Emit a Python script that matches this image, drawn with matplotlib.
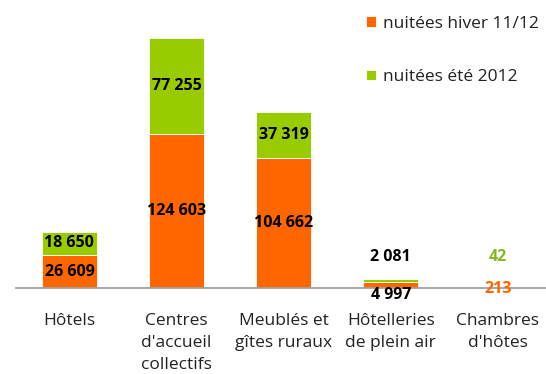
import matplotlib.pyplot as plt
import numpy as np

categories = ["Hôtels", "Centres\nd'accueil\ncollectifs", "Meublés et\ngîtes ruraux",
              "Hôtelleries\nde plein air", "Chambres\nd'hôtes"]
hiver = [26609, 124603, 104662, 4997, 213]
ete = [18650, 77255, 37319, 2081, 42]
hiver_labels = ["26 609", "124 603", "104 662", "4 997", "213"]
ete_labels = ["18 650", "77 255", "37 319", "2 081", "42"]

orange = '#FF6600'
green = '#99CC00'

plt.rcParams['font.family'] = ['Open Sans', 'DejaVu Sans']

fig = plt.figure(figsize=(5.46, 3.74), dpi=100)
ax = fig.add_axes([0.029, 0.23, 0.971, 0.77])

x = np.arange(len(categories))
width = 0.51
b1 = ax.bar(x, hiver, width, color=orange, edgecolor='white', linewidth=0.6,
            label='nuitées hiver 11/12')
b2 = ax.bar(x, ete, width, bottom=hiver, color=green, edgecolor='white', linewidth=0.6,
            label='nuitées été 2012')

ax.set_xlim(-0.5, 4.45)
ax.set_ylim(0, 232500)

# value labels: inside bars for the big ones, outside for the small ones
for i in range(len(categories)):
    if hiver[i] > 20000:
        ax.text(x[i], hiver[i] / 2, hiver_labels[i], ha='center', va='center',
                fontsize=11.5, fontweight='bold', color='black')
        ax.text(x[i], hiver[i] + ete[i] / 2, ete_labels[i], ha='center', va='center',
                fontsize=11.5, fontweight='bold', color='black')
for i, col_h, col_e in [(3, 'black', 'black'), (4, orange, '#88B820')]:
    yh = -5600 if i == 3 else -800
    ax.text(x[i], yh, hiver_labels[i], ha='center', va='center',
            fontsize=11.5, fontweight='bold', color=col_h)
    ax.text(x[i], 25000, ete_labels[i], ha='center', va='center',
            fontsize=11.5, fontweight='bold', color=col_e)

for s in ['top', 'right', 'left']:
    ax.spines[s].set_visible(False)
ax.spines['bottom'].set_color('#A0A0A0')
ax.spines['bottom'].set_linewidth(1.3)
ax.set_yticks([])
ax.set_xticks(x)
ax.set_xticklabels(categories, fontsize=12.5, color='#222222', linespacing=1.5)
ax.tick_params(axis='x', length=0, pad=18)

leg = fig.legend(handles=[b1, b2], loc='upper left', bbox_to_anchor=(0.642, 1.0),
                 frameon=False, fontsize=12.5, handlelength=0.55, handleheight=0.55,
                 handletextpad=0.4, labelspacing=2.15)
for t in leg.get_texts():
    t.set_color('#222222')

fig.savefig('out.png', dpi=100)
